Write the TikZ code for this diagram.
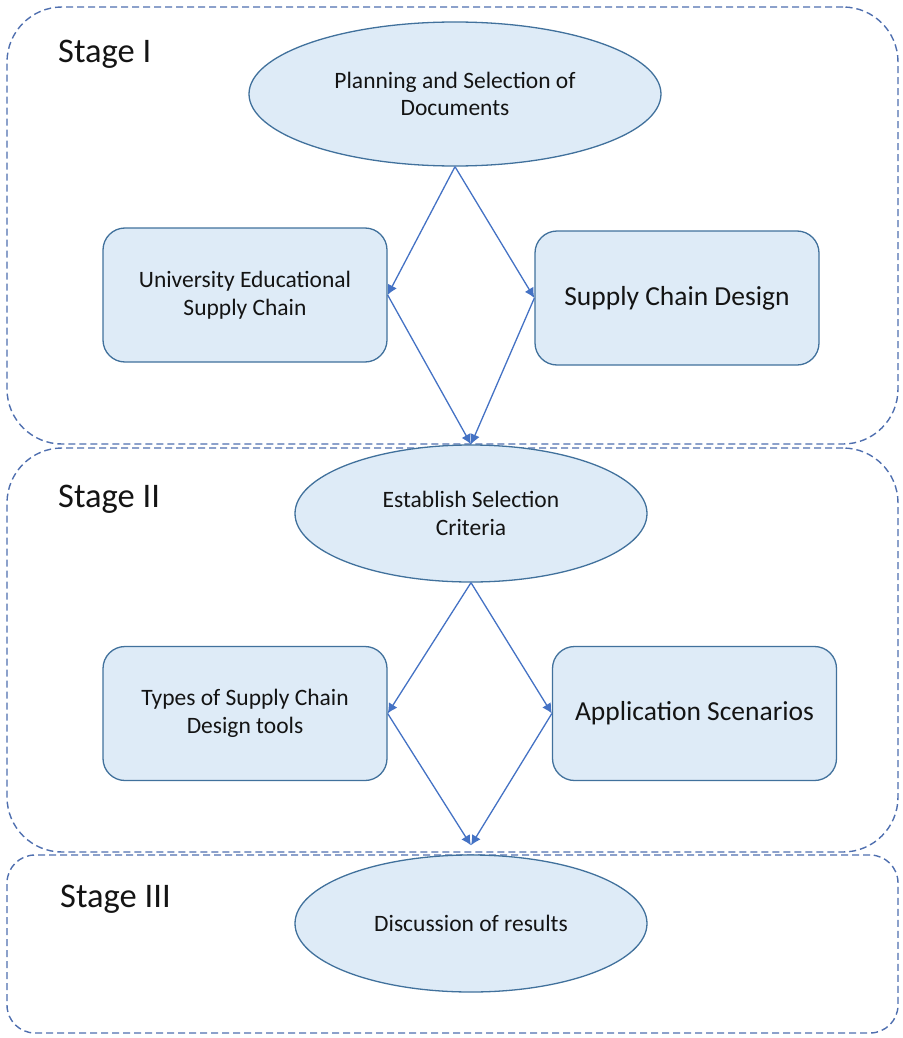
\documentclass[tikz,border=0pt]{standalone}
\usepackage{fontspec}
\setmainfont{Carlito}
\usetikzlibrary{shapes.geometric,arrows.meta}
\definecolor{shapefill}{HTML}{DEEBF7}
\definecolor{shapeline}{HTML}{41719C}
\definecolor{linkblue}{HTML}{4472C4}
\definecolor{stageline}{HTML}{4F6FAF}
\begin{document}
\begin{tikzpicture}[x=1pt,y=-1pt,
  stagebox/.style={draw=stageline, line width=1.4pt, dash pattern=on 7pt off 4pt,
    rounded corners=#1, minimum width=891pt, inner sep=0pt},
  stagelabel/.style={anchor=base west, font=\fontsize{34.5}{40}\selectfont, inner sep=0pt, text=black!92},
  oval/.style={ellipse, draw=shapeline, fill=shapefill, line width=1.3pt, inner sep=0pt,
    align=center, font=\fontsize{23.5}{27.5}\selectfont, text=black!92},
  stepbox/.style={rectangle, rounded corners=22pt, draw=shapeline, fill=shapefill, line width=1.3pt,
    minimum width=284pt, minimum height=134pt, inner sep=0pt, align=center, text=black!92},
  link/.style={draw=linkblue, line width=1.3pt, -{Latex[length=10pt,width=10pt]}}
]
\useasboundingbox (0,0) rectangle (902,1038);

% stage frames
\node[stagebox=55pt, minimum height=437pt] (s1) at (452.5,225.5) {};
\node[stagebox=55pt, minimum height=404pt] (s2) at (452.5,650) {};
\node[stagebox=28pt, minimum height=178pt] (s3) at (452.5,944) {};

\node[stagelabel] (l1) at (58,63) {Stage I};
\node[stagelabel] (l2) at (58,507) {Stage II};
\node[stagelabel] (l3) at (60,907) {Stage III};

% stage I
\node[oval, minimum width=412pt, minimum height=144pt] (e1) at (455,94)
  {Planning and Selection of\\Documents};
\node[stepbox, font=\fontsize{23.5}{27.5}\selectfont] (b1) at (245,295)
  {University Educational\\Supply Chain};
\node[stepbox, font=\fontsize{27.5}{32}\selectfont] (b2) at (677,298)
  {Supply Chain Design};

% stage II
\node[oval, minimum width=352pt, minimum height=137pt] (e2) at (471,513.5)
  {Establish Selection\\Criteria};
\node[stepbox, font=\fontsize{23.5}{27.5}\selectfont] (b3) at (245,713.5)
  {Types of Supply Chain\\Design tools};
\node[stepbox, font=\fontsize{27.5}{32}\selectfont] (b4) at (694.5,713.5)
  {Application Scenarios};

% stage III
\node[oval, minimum width=352pt, minimum height=137pt] (e3) at (471,923.5)
  {Discussion of results};
\coordinate (m3) at ([yshift=9pt]e3.north);

% connectors
\draw[link] (e1.south) -- (b1.east);
\draw[link] (e1.south) -- (b2.west);
\draw[link] (b1.east) -- (e2.north);
\draw[link] (b2.west) -- (e2.north);

\draw[link] (e2.south) -- (b3.east);
\draw[link] (e2.south) -- (b4.west);
\draw[link] (b3.east) -- (m3);
\draw[link] (b4.west) -- (m3);
\end{tikzpicture}
\end{document}
